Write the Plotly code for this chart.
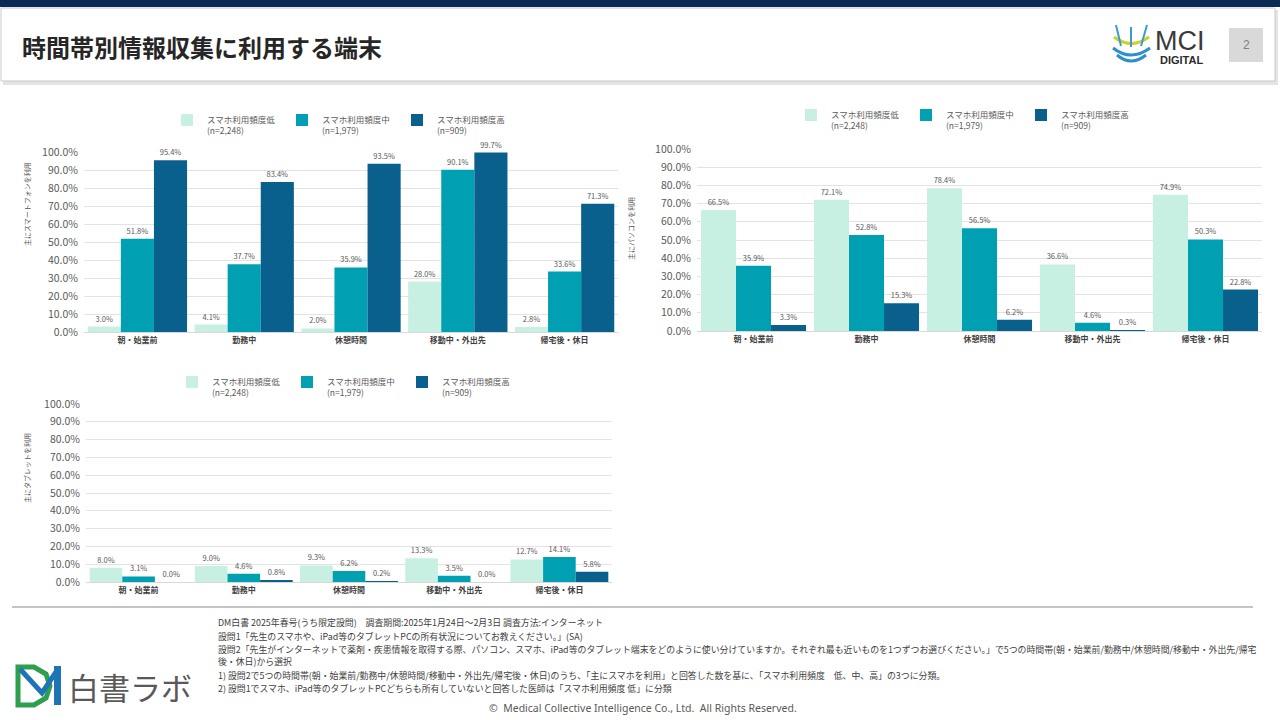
import plotly.graph_objects as go

# ---------------- data ----------------
categories = ["朝・始業前", "勤務中", "休憩時間", "移動中・外出先", "帰宅後・休日"]
series_names = ["スマホ利用頻度低<br>(n=2,248)", "スマホ利用頻度中<br>(n=1,979)", "スマホ利用頻度高<br>(n=909)"]

smartphone_low = [3.0, 4.1, 2.0, 28.0, 2.8]
smartphone_mid = [51.8, 37.7, 35.9, 90.1, 33.6]
smartphone_high = [95.4, 83.4, 93.5, 99.7, 71.3]

pc_low = [66.5, 72.1, 78.4, 36.6, 74.9]
pc_mid = [35.9, 52.8, 56.5, 4.6, 50.3]
pc_high = [3.3, 15.3, 6.2, 0.3, 22.8]

tablet_low = [8.0, 9.0, 9.3, 13.3, 12.7]
tablet_mid = [3.1, 4.6, 6.2, 3.5, 14.1]
tablet_high = [0.0, 0.8, 0.2, 0.0, 5.8]

axis_titles = ["主にスマートフォンを利用", "主にパソコンを利用", "主にタブレットを利用"]
y_ticks = [0, 10, 20, 30, 40, 50, 60, 70, 80, 90, 100]
y_tick_labels = [f"{v:.1f}%" for v in y_ticks]

colors = ["#c8f0e2", "#00a0b2", "#0a608c"]

W, H = 1280, 720
FONT = "Noto Sans CJK JP"


def px(x):
    return x / W


def py(y):
    return 1 - y / H


def path(points, close=False):
    s = "M " + " L ".join(f"{px(a):.5f},{py(b):.5f}" for a, b in points)
    return s + (" Z" if close else "")


def qpath(p0, c, p1):
    return (f"M {px(p0[0]):.5f},{py(p0[1]):.5f} Q {px(c[0]):.5f},{py(c[1]):.5f} "
            f"{px(p1[0]):.5f},{py(p1[1]):.5f}")


fig = go.Figure()

charts = [
    ("x", "y", "legend", [smartphone_low, smartphone_mid, smartphone_high]),
    ("x2", "y2", "legend2", [pc_low, pc_mid, pc_high]),
    ("x3", "y3", "legend3", [tablet_low, tablet_mid, tablet_high]),
]

for xa, ya, lg, series in charts:
    for name, vals, col in zip(series_names, series, colors):
        fig.add_trace(go.Bar(
            x=categories, y=vals, name=name, xaxis=xa, yaxis=ya, legend=lg,
            marker=dict(color=col, line=dict(width=0)),
            text=[f"{v:.1f}%" for v in vals], textposition="outside",
            textfont=dict(size=7.5, color="#595959", family=FONT),
            cliponaxis=False, hovertemplate="%{x}: %{y:.1f}%<extra></extra>",
        ))

# ---------------- axes ----------------
domains = {
    "1": dict(x=[px(84), px(618)], y=[py(332), py(152)]),
    "2": dict(x=[px(697), px(1262)], y=[py(331), py(149)]),
    "3": dict(x=[px(86), px(612)], y=[py(582), py(404)]),
}

axis_common_x = dict(
    showgrid=False, showline=True, linecolor="#d9d9d9", linewidth=1,
    tickfont=dict(size=8, color="#404040", family=FONT, weight="bold"),
    ticks="", fixedrange=True, automargin=False,
)
axis_common_y = dict(
    range=[0, 100], tickvals=y_ticks, ticktext=y_tick_labels,
    showgrid=True, gridcolor="#e3e3e3", gridwidth=1, zeroline=False,
    showline=False, tickfont=dict(size=10.5, color="#595959", family=FONT),
    ticks="", ticklabelstandoff=5, fixedrange=True, automargin=False,
)

layout_axes = {}
for k, d in domains.items():
    xs = "xaxis" if k == "1" else f"xaxis{k}"
    ys = "yaxis" if k == "1" else f"yaxis{k}"
    ya_ref = "y" if k == "1" else f"y{k}"
    xa_ref = "x" if k == "1" else f"x{k}"
    layout_axes[xs] = dict(axis_common_x, domain=d["x"], anchor=ya_ref)
    layout_axes[ys] = dict(axis_common_y, domain=d["y"], anchor=xa_ref)

legend_common = dict(
    orientation="h", xanchor="left", yanchor="top",
    font=dict(size=8.5, color="#595959", family=FONT),
    bgcolor="rgba(0,0,0,0)", itemwidth=30, valign="top",
    entrywidth=70, entrywidthmode="pixels",
    itemclick=False, itemdoubleclick=False, tracegroupgap=0,
)

fig.update_layout(
    width=W, height=H, autosize=False,
    margin=dict(l=0, r=0, t=0, b=0, pad=0, autoexpand=False),
    paper_bgcolor="white", plot_bgcolor="white",
    barmode="group", bargap=0.07, bargroupgap=0,
    font=dict(family=FONT, color="#404040"),
    legend=dict(legend_common, x=px(167), y=py(108)),
    legend2=dict(legend_common, x=px(791), y=py(103)),
    legend3=dict(legend_common, x=px(172), y=py(370)),
    **layout_axes,
)

# ---------------- annotations ----------------
ann = []
# axis titles
for t, (x, y) in zip(axis_titles, [(27, 204), (631, 229), (27, 468)]):
    ann.append(dict(text=t, x=px(x), y=py(y), xref="paper", yref="paper",
                    xanchor="center", yanchor="middle",
                    showarrow=False, textangle=-90,
                    font=dict(size=7, color="#595959", family=FONT)))

# header title
ann.append(dict(text="<b>時間帯別情報収集に利用する端末</b>", x=px(20), y=py(47),
                xref="paper", yref="paper", xanchor="left", yanchor="middle",
                showarrow=False, font=dict(size=24, color="#262626", family=FONT)))
# page number
ann.append(dict(text="2", x=px(1246), y=py(45), xref="paper", yref="paper",
                xanchor="center", yanchor="middle",
                showarrow=False, font=dict(size=12, color="#7f7f7f", family="Liberation Sans")))
# MCI logo text
ann.append(dict(text="MCI", x=px(1153), y=py(41), xref="paper", yref="paper",
                xanchor="left", yanchor="middle", showarrow=False,
                font=dict(size=27, color="#3a3a3a", family="Liberation Sans")))
ann.append(dict(text="<b>DIGITAL</b>", x=px(1158), y=py(60), xref="paper", yref="paper",
                xanchor="left", yanchor="middle", showarrow=False,
                font=dict(size=11, color="#2b2b2b", family="Liberation Sans")))

# footnotes
foot_lines = [
    (622, "DM白書 2025年春号(うち限定設問)　調査期間:2025年1月24日～2月3日 調査方法:インターネット"),
    (636, "設問1「先生のスマホや、iPad等のタブレットPCの所有状況についてお教えください。」(SA)"),
    (649, "設問2「先生がインターネットで薬剤・疾患情報を取得する際、パソコン、スマホ、iPad等のタブレット端末をどのように使い分けていますか。それぞれ最も近いものを1つずつお選びください。」で5つの時間帯(朝・始業前/勤務中/休憩時間/移動中・外出先/帰宅"),
    (661, "後・休日)から選択"),
    (675, "1) 設問2で5つの時間帯(朝・始業前/勤務中/休憩時間/移動中・外出先/帰宅後・休日)のうち、「主にスマホを利用」と回答した数を基に、「スマホ利用頻度　低、中、高」の3つに分類。"),
    (688, "2) 設問1でスマホ、iPad等のタブレットPCどちらも所有していないと回答した医師は「スマホ利用頻度 低」に分類"),
]
for y, t in foot_lines:
    ann.append(dict(text=t, x=px(216), y=py(y), xref="paper", yref="paper",
                    xanchor="left", yanchor="middle", showarrow=False,
                    font=dict(size=8.9, color="#404040", family=FONT)))

ann.append(dict(text="©  Medical Collective Intelligence Co., Ltd.  All Rights Reserved.",
                x=px(643), y=py(708), xref="paper", yref="paper",
                xanchor="center", yanchor="middle", showarrow=False,
                font=dict(size=10.5, color="#595959", family="Noto Sans")))
# 白書ラボ logo text
ann.append(dict(text="白書ラボ", x=px(66), y=py(686), xref="paper", yref="paper",
                xanchor="left", yanchor="middle", showarrow=False,
                font=dict(size=31, color="#595959", family=FONT)))

# ---------------- shapes ----------------
shapes = []
# header shadow + box
shapes.append(dict(type="rect", xref="paper", yref="paper", x0=px(3), x1=px(1278),
                   y0=py(85), y1=py(10), fillcolor="#e4e4e4", line=dict(width=0), layer="below"))
shapes.append(dict(type="rect", xref="paper", yref="paper", x0=px(1), x1=px(1275),
                   y0=py(81), y1=py(8), fillcolor="white",
                   line=dict(color="#c9c9c9", width=1), layer="below"))
# top navy band
shapes.append(dict(type="rect", xref="paper", yref="paper", x0=0, x1=1,
                   y0=py(7), y1=1, fillcolor="#0b2a56", line=dict(width=0)))
# page number box
shapes.append(dict(type="rect", xref="paper", yref="paper", x0=px(1229), x1=px(1263),
                   y0=py(62), y1=py(28), fillcolor="#d9d9d9", line=dict(width=0), layer="below"))
# MCI emblem
for p, c, q, col, w in [
    ((1114, 37), (1131, 50), (1149, 37), "#c9d32a", 3),
    ((1113, 48), (1131, 62), (1150, 48), "#2e8fcf", 3),
    ((1117, 55), (1131, 67), (1146, 55), "#2e8fcf", 3),
]:
    shapes.append(dict(type="path", xref="paper", yref="paper", path=qpath(p, c, q),
                       line=dict(color=col, width=w)))
for pts in [[(1116, 25), (1121, 46)], [(1131, 27), (1131, 47)], [(1147, 25), (1141, 46)]]:
    shapes.append(dict(type="path", xref="paper", yref="paper", path=path(pts),
                       line=dict(color="#3b9ad3", width=2)))
# footer divider
shapes.append(dict(type="line", xref="paper", yref="paper", x0=px(12), x1=px(1253),
                   y0=py(607), y1=py(607), line=dict(color="#c4c4c4", width=2)))
# DM logo
shapes.append(dict(type="path", xref="paper", yref="paper",
                   path=path([(18, 667), (34, 667), (46, 674), (50, 686), (46, 698),
                              (34, 705), (18, 705)], close=True),
                   line=dict(color="#2e9e4f", width=5)))
shapes.append(dict(type="path", xref="paper", yref="paper",
                   path=path([(20, 669), (42, 693), (56, 672)]),
                   line=dict(color="#1f74b6", width=5)))
shapes.append(dict(type="rect", xref="paper", yref="paper", x0=px(54), x1=px(61),
                   y0=py(705), y1=py(666), fillcolor="#1f74b6", line=dict(width=0)))

fig.update_layout(annotations=ann, shapes=shapes)

fig.write_html(
    "out.html",
    config=dict(displayModeBar=False),
    post_script="document.body.style.margin='0px';document.body.style.overflow='hidden';",
)
